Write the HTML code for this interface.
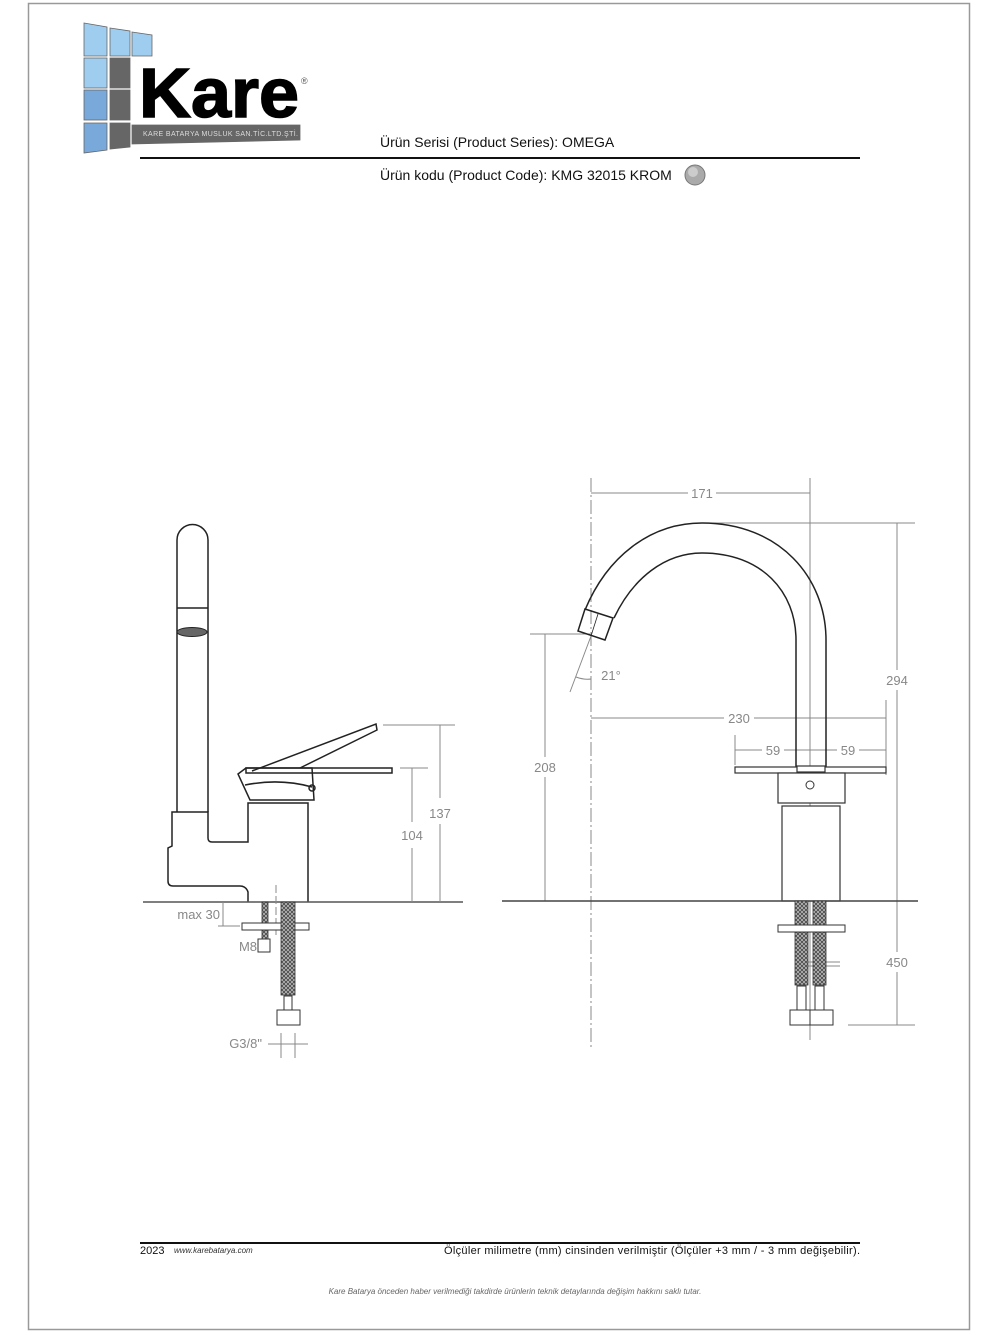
<!DOCTYPE html>
<html><head><meta charset="utf-8"><style>
html,body{margin:0;padding:0;background:#fff}
svg{display:block}
text{font-family:"Liberation Sans",sans-serif}
</style></head><body>
<svg width="1000" height="1333" viewBox="0 0 1000 1333" xmlns="http://www.w3.org/2000/svg">
<defs>
<pattern id="h" width="4" height="4" patternUnits="userSpaceOnUse"><rect width="4" height="4" fill="#bbb"/><path d="M0 0L4 4M4 0L0 4" stroke="#444" stroke-width="0.8"/></pattern>
</defs>
<rect x="28.5" y="3.5" width="941" height="1326" fill="none" stroke="#999" stroke-width="1.5"/>
<!-- logo -->
<g stroke="#666" stroke-width="0.8">
<polygon points="84,23 107,27 107,56 84,56" fill="#9fcdef"/>
<polygon points="110,28 130,31 130,56 110,56" fill="#9fcdef"/>
<polygon points="132,32 152,35 152,56 132,56" fill="#9fcdef"/>
<rect x="84" y="58" width="23" height="30" fill="#9fcdef"/>
<rect x="110" y="58" width="20" height="30" fill="#666"/>
<rect x="84" y="90" width="23" height="30" fill="#78a9da"/>
<rect x="110" y="90" width="20" height="30" fill="#666"/>
<polygon points="84,123 107,123 107,150 84,153" fill="#78a9da"/>
<polygon points="110,123 130,123 130,147 110,149" fill="#666"/>
<polygon points="132,125 300,125 300,140 132,144" fill="#666"/>
</g>
<text x="139" y="117" font-size="70" font-weight="bold" fill="#000" textLength="160" lengthAdjust="spacingAndGlyphs" stroke="#000" stroke-width="1.5">Kare</text>
<text x="301" y="84" font-size="9" fill="#555">®</text>
<text x="143" y="136" font-size="7" fill="#ddd" textLength="155">KARE BATARYA MUSLUK SAN.TİC.LTD.ŞTİ.</text>
<text x="380" y="147" font-size="14" fill="#111">Ürün Serisi (Product Series): OMEGA</text>
<line x1="140" y1="158" x2="860" y2="158" stroke="#111" stroke-width="2"/>
<text x="380" y="180" font-size="14" fill="#111">Ürün kodu (Product Code): KMG 32015 KROM</text>
<circle cx="695" cy="175" r="10" fill="#aaa" stroke="#777"/>
<circle cx="693" cy="172" r="5" fill="#ccc"/>

<!-- LEFT VIEW -->
<g fill="none" stroke="#222" stroke-width="1.5">
<path d="M177 812 L177 540 A15.5 15.5 0 0 1 208 540 L208 812"/>
<line x1="177" y1="608" x2="208" y2="608"/>
<path d="M177 812 L208 812 L208 838 Q208 842 212 842 L248 842 L248 803 L308 803 L308 902 M248 902 L248 892 Q246 886 240 886 L173 886 Q168 886 168 881 L168 848 L172 846 L172 812 L177 812"/>
<path d="M238 774 L246 768 L312 768 L314 800 L250 800 Z"/>
<rect x="246" y="768" width="146" height="5"/>
<path d="M252 771 L376 724 L377 730 L300 768"/>
<path d="M245 785 Q280 778 312 787"/>
<circle cx="312" cy="788" r="3"/>
</g>
<ellipse cx="192" cy="632" rx="15" ry="4.5" fill="#666" stroke="#222"/>
<line x1="143" y1="902" x2="463" y2="902" stroke="#555" stroke-width="1.5"/>
<g stroke="#888" stroke-width="1" fill="none">
<line x1="383" y1="725" x2="455" y2="725"/><line x1="440" y1="725" x2="440" y2="902"/>
<line x1="400" y1="768" x2="428" y2="768"/><line x1="412" y1="768" x2="412" y2="902"/>
<line x1="223" y1="902" x2="223" y2="926"/><line x1="218" y1="926" x2="240" y2="926"/>
<line x1="276" y1="885" x2="276" y2="935" stroke-dasharray="8,3"/>
<line x1="268" y1="1044" x2="308" y2="1044"/><line x1="281" y1="1033" x2="281" y2="1058"/><line x1="295" y1="1033" x2="295" y2="1058"/>
</g>
<rect x="439" y="798" width="2" height="26" fill="#fff"/><text x="440" y="818" font-size="13" fill="#888" text-anchor="middle">137</text>
<rect x="411" y="822" width="2" height="26" fill="#fff"/><text x="412" y="840" font-size="13" fill="#888" text-anchor="middle">104</text>
<text x="220" y="919" font-size="13" fill="#888" text-anchor="end">max 30</text>
<text x="257" y="951" font-size="13" fill="#888" text-anchor="end">M8</text>
<text x="262" y="1048" font-size="13" fill="#888" text-anchor="end">G3/8"</text>
<rect x="262" y="902" width="6" height="42" fill="url(#h)" stroke="#333" stroke-width="0.8"/>
<rect x="258" y="939" width="12" height="13" fill="#fff" stroke="#333"/>
<rect x="242" y="923" width="67" height="7" fill="#fff" stroke="#333"/>
<rect x="281" y="902" width="14" height="93" fill="url(#h)" stroke="#333" stroke-width="0.8"/>
<rect x="284" y="996" width="8" height="14" fill="#fff" stroke="#333"/>
<rect x="277" y="1010" width="23" height="15" fill="#fff" stroke="#333"/>

<!-- RIGHT VIEW -->
<g stroke="#888" stroke-width="1" fill="none">
<line x1="591" y1="478" x2="591" y2="1050" stroke-dasharray="14,3,2,3"/>
<line x1="810" y1="478" x2="810" y2="1040"/>
<line x1="591" y1="493" x2="810" y2="493"/>
<line x1="702" y1="523" x2="915" y2="523"/>
<line x1="897" y1="523" x2="897" y2="1025"/>
<line x1="848" y1="1025" x2="915" y2="1025"/>
<line x1="530" y1="634" x2="590" y2="634"/>
<line x1="545" y1="634" x2="545" y2="901"/>
<line x1="591" y1="718" x2="886" y2="718"/>
<line x1="886" y1="700" x2="886" y2="775"/>
<line x1="735" y1="750" x2="886" y2="750"/>
<line x1="735" y1="735" x2="735" y2="765"/>
<line x1="782" y1="884" x2="840" y2="884"/>
<line x1="591" y1="636" x2="570" y2="692"/>
<path d="M576 677 Q584 680 591 679"/>
<line x1="795" y1="962" x2="840" y2="962"/><line x1="795" y1="966" x2="840" y2="966"/>
</g>
<g fill="#fff" font-size="13">
<rect x="688" y="485" width="28" height="16" stroke="none"/>
<rect x="724" y="710" width="30" height="16" stroke="none"/>
<rect x="762" y="742" width="22" height="16" stroke="none"/>
<rect x="837" y="742" width="22" height="16" stroke="none"/>
<rect x="888" y="670" width="18" height="20" stroke="none"/>
<rect x="888" y="952" width="18" height="20" stroke="none"/>
<rect x="536" y="757" width="18" height="20" stroke="none"/>
</g>
<g font-size="13" fill="#888" text-anchor="middle">
<text x="702" y="498">171</text><text x="739" y="723">230</text>
<text x="773" y="755">59</text><text x="848" y="755">59</text>
<text x="897" y="685">294</text><text x="897" y="967">450</text>
<text x="545" y="772">208</text><text x="811" y="888">46</text>
<text x="611" y="680">21°</text>
</g>
<g fill="none" stroke="#222" stroke-width="1.5">
<path d="M585 610 C607 557 650 523 702 523 C780 523 826 578 826 640 L826 767"/>
<path d="M614 618 C633 578 665 553 702 553 C762 553 796 592 796 640 L796 767"/>
<path d="M585 609 L613 618 L605 640 L578 631 Z"/>
<line x1="598" y1="614" x2="591" y2="636" stroke-width="0.8"/>
</g>
<g fill="#fff" stroke="#333" stroke-width="1.2">
<rect x="735" y="767" width="151" height="6"/>
<rect x="797" y="766" width="28" height="6"/>
<rect x="778" y="773" width="67" height="30"/>
<rect x="782" y="806" width="58" height="95"/>
</g>
<circle cx="810" cy="785" r="4" fill="#fff" stroke="#333"/>
<line x1="502" y1="901" x2="918" y2="901" stroke="#444" stroke-width="1.5"/>
<rect x="795" y="901" width="13" height="84" fill="url(#h)" stroke="#333" stroke-width="0.8"/>
<rect x="813" y="901" width="13" height="84" fill="url(#h)" stroke="#333" stroke-width="0.8"/>
<rect x="778" y="925" width="67" height="7" fill="#fff" stroke="#333"/>
<rect x="797" y="986" width="9" height="24" fill="#fff" stroke="#333"/>
<rect x="815" y="986" width="9" height="24" fill="#fff" stroke="#333"/>
<rect x="790" y="1010" width="43" height="15" fill="#fff" stroke="#333"/>
<line x1="810" y1="1010" x2="810" y2="1025" stroke="#333"/>

<!-- footer -->
<line x1="140" y1="1243" x2="860" y2="1243" stroke="#111" stroke-width="2"/>
<text x="140" y="1254" font-size="11" fill="#111">2023</text>
<text x="174" y="1253" font-size="8" font-style="italic" fill="#333">www.karebatarya.com</text>
<text x="860" y="1254" font-size="11" fill="#111" text-anchor="end" textLength="416">Ölçüler milimetre (mm) cinsinden verilmiştir (Ölçüler  +3 mm / - 3 mm değişebilir).</text>
<text x="515" y="1294" font-size="8" font-style="italic" fill="#666" text-anchor="middle">Kare Batarya önceden haber verilmediği takdirde ürünlerin teknik detaylarında değişim hakkını saklı tutar.</text>
</svg>
</body></html>
